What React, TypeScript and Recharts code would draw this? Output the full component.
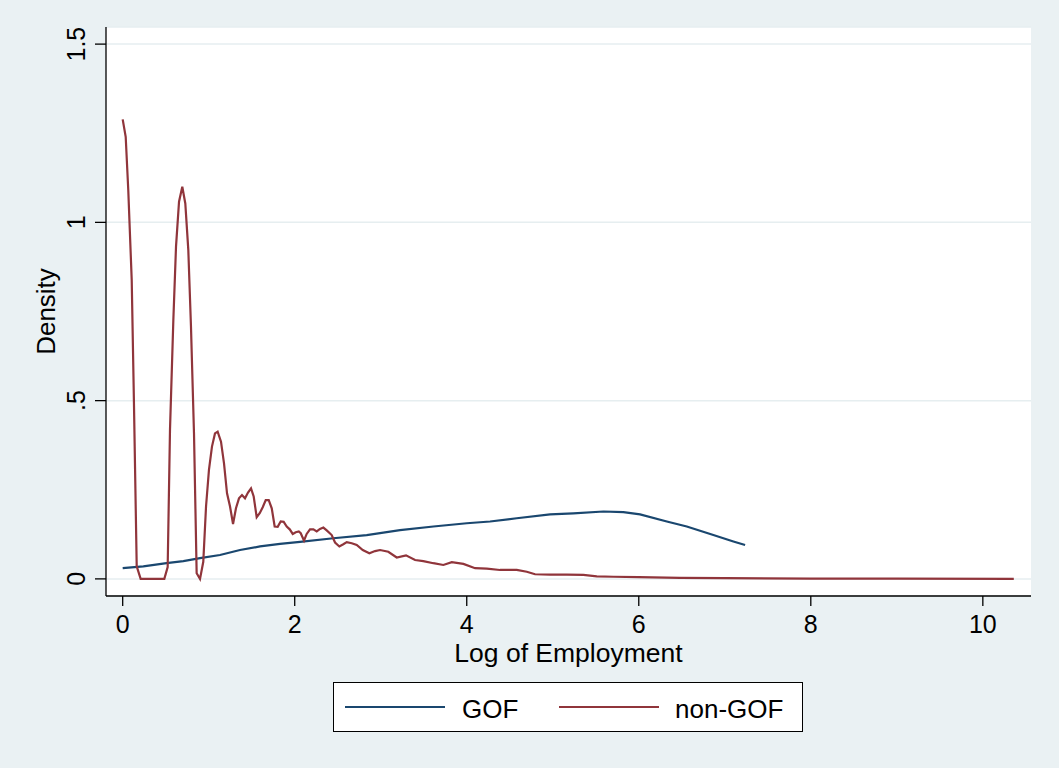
import React from 'react';
import { LineChart, Line, XAxis, YAxis, CartesianGrid, Label } from 'recharts';

const gofLogEmp = [0, 0.24, 0.51, 0.705, 0.899, 1.131, 1.364, 1.597, 1.829, 2.062, 2.449, 2.837, 3.224, 3.612, 4.0, 4.271, 4.581, 4.969, 5.24, 5.589, 5.821, 6.015, 6.326, 6.558, 6.867, 7.1, 7.236];
const gofDensity = [0.03, 0.035, 0.044, 0.05, 0.058, 0.067, 0.081, 0.091, 0.098, 0.104, 0.114, 0.123, 0.137, 0.147, 0.156, 0.161, 0.17, 0.181, 0.184, 0.189, 0.187, 0.181, 0.161, 0.147, 0.123, 0.105, 0.095];

const nonGofLogEmp = [0, 0.035, 0.065, 0.105, 0.131, 0.163, 0.209, 0.484, 0.523, 0.55, 0.589, 0.62, 0.655, 0.693, 0.728, 0.763, 0.794, 0.829, 0.86, 0.899, 0.937, 0.969, 1.003, 1.038, 1.073, 1.104, 1.143, 1.178, 1.213, 1.248, 1.283, 1.317, 1.352, 1.387, 1.422, 1.457, 1.492, 1.523, 1.558, 1.593, 1.628, 1.663, 1.698, 1.733, 1.767, 1.802, 1.837, 1.872, 1.907, 1.942, 1.977, 2.012, 2.047, 2.07, 2.108, 2.139, 2.178, 2.217, 2.256, 2.294, 2.333, 2.372, 2.43, 2.469, 2.519, 2.565, 2.605, 2.663, 2.721, 2.791, 2.868, 2.934, 2.992, 3.088, 3.186, 3.294, 3.399, 3.495, 3.612, 3.728, 3.826, 3.961, 4.097, 4.233, 4.387, 4.581, 4.698, 4.794, 4.969, 5.163, 5.356, 5.512, 5.705, 6.0, 6.48, 7.0, 8.0, 9.0, 10.36];
const nonGofDensity = [1.289, 1.24, 1.09, 0.838, 0.493, 0.035, 0, 0, 0.033, 0.418, 0.726, 0.932, 1.058, 1.1, 1.053, 0.922, 0.707, 0.409, 0.016, 0, 0.048, 0.203, 0.306, 0.371, 0.408, 0.413, 0.385, 0.324, 0.24, 0.203, 0.154, 0.198, 0.226, 0.235, 0.226, 0.242, 0.254, 0.231, 0.173, 0.184, 0.201, 0.221, 0.221, 0.198, 0.147, 0.146, 0.161, 0.16, 0.147, 0.139, 0.126, 0.131, 0.133, 0.128, 0.107, 0.126, 0.139, 0.139, 0.133, 0.14, 0.144, 0.136, 0.123, 0.102, 0.091, 0.097, 0.103, 0.1, 0.095, 0.081, 0.072, 0.078, 0.081, 0.076, 0.06, 0.066, 0.053, 0.05, 0.044, 0.039, 0.047, 0.042, 0.03, 0.029, 0.025, 0.025, 0.02, 0.013, 0.012, 0.012, 0.011, 0.007, 0.006, 0.005, 0.003, 0.002, 0.001, 0.0005, 0];

const xTicks = [0, 2, 4, 6, 8, 10];
const yTicks = [0, 0.5, 1, 1.5];
const yTickLabels = ['0', '.5', '1', '1.5'];

const seriesNames = ['GOF', 'non-GOF'];
const seriesColors = ['#1a476f', '#90353b'];

const gofData = gofLogEmp.map((x, i) => ({ x, y: gofDensity[i] }));
const nonGofData = nonGofLogEmp.map((x, i) => ({ x, y: nonGofDensity[i] }));

const FONT = "'Liberation Sans', Arial, Helvetica, sans-serif";
const BG = '#eaf1f3';

const YTick = (props: any) => {
  const { x, y, payload } = props;
  const idx = yTicks.indexOf(payload.value);
  const label = idx >= 0 ? yTickLabels[idx] : String(payload.value);
  return (
    <text x={x} y={y} transform={`rotate(-90, ${x}, ${y})`} textAnchor="middle" fontSize={25} fontFamily={FONT} fill="#000">
      {label}
    </text>
  );
};

export default function App() {
  return (
    <div style={{ position: 'absolute', left: 0, top: 0, width: 1059, height: 768, background: BG }}>
      <LineChart width={1059} height={768} margin={{ top: 27, right: 28, bottom: 0, left: 0 }}>
        <CartesianGrid horizontal vertical={false} fill="#ffffff" stroke="#e6eef0" strokeWidth={1.5} />
        <XAxis
          type="number"
          dataKey="x"
          domain={[-0.194, 10.56]}
          ticks={xTicks}
          allowDataOverflow
          height={172}
          tickSize={10}
          tickMargin={9}
          stroke="#000"
          strokeWidth={1.3}
          tick={{ fill: '#000', fontSize: 25, fontFamily: FONT }}
        >
          <Label
            content={({ viewBox }: any) => (
              <text x={viewBox.x + viewBox.width / 2} y={viewBox.y + 66.3} textAnchor="middle" fontSize={26.5} fontFamily={FONT} fill="#000">
                Log of Employment
              </text>
            )}
          />
        </XAxis>
        <YAxis
          type="number"
          dataKey="y"
          domain={[-0.048, 1.548]}
          ticks={yTicks}
          allowDataOverflow
          width={106}
          tickSize={11}
          tickMargin={10}
          stroke="#000"
          strokeWidth={1.3}
          tick={<YTick />}
        >
          <Label
            content={({ viewBox }: any) => {
              const cx = 55;
              const cy = viewBox.y + viewBox.height / 2;
              return (
                <text x={cx} y={cy} transform={`rotate(-90, ${cx}, ${cy})`} textAnchor="middle" fontSize={26} fontFamily={FONT} fill="#000">
                  Density
                </text>
              );
            }}
          />
        </YAxis>
        <Line data={gofData} dataKey="y" name={seriesNames[0]} type="linear" stroke={seriesColors[0]} strokeWidth={2.2} dot={false} isAnimationActive={false} />
        <Line data={nonGofData} dataKey="y" name={seriesNames[1]} type="linear" stroke={seriesColors[1]} strokeWidth={2.2} dot={false} isAnimationActive={false} />
      </LineChart>
      <div style={{ position: 'absolute', left: 333, top: 682, width: 470, height: 50, boxSizing: 'border-box', border: '1.3px solid #000', background: '#fff' }}>
        <svg width={468} height={48} style={{ position: 'absolute', left: 0, top: 0 }}>
          <line x1={11} x2={111} y1={24} y2={24} stroke={seriesColors[0]} strokeWidth={2.2} />
          <text x={128} y={35} fontSize={26} fontFamily={FONT} fill="#000">{seriesNames[0]}</text>
          <line x1={225} x2={325} y1={24} y2={24} stroke={seriesColors[1]} strokeWidth={2.2} />
          <text x={341} y={35} fontSize={26} fontFamily={FONT} fill="#000">{seriesNames[1]}</text>
        </svg>
      </div>
    </div>
  );
}
